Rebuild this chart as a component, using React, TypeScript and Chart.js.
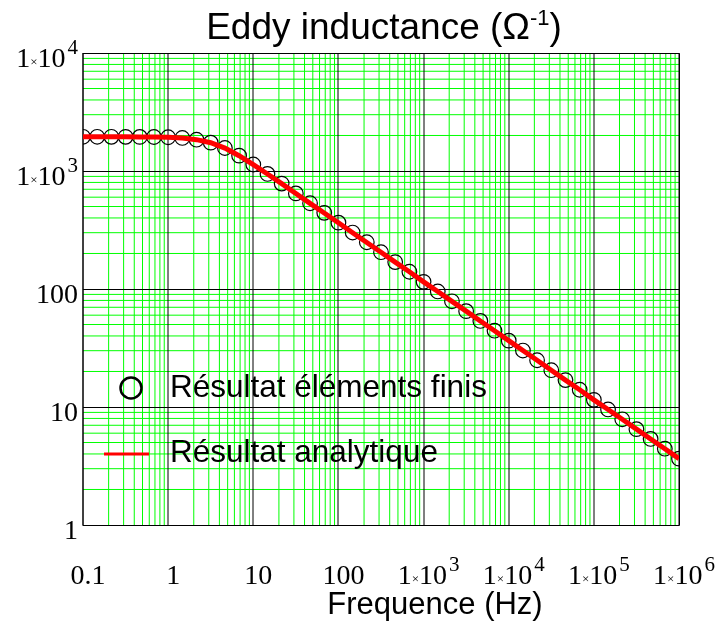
import React, { useEffect, useRef } from 'react';
import { Chart, registerables } from 'chart.js';

Chart.register(...registerables);

// Frequencies (Hz) of the computed points, 6 per decade
const FREQ = [
  0.1, 0.1468, 0.2154, 0.3162, 0.4642, 0.6813,
  1, 1.468, 2.154, 3.162, 4.642, 6.813,
  10, 14.68, 21.54, 31.62, 46.42, 68.13,
  100, 146.8, 215.4, 316.2, 464.2, 681.3,
  1000, 1468, 2154, 3162, 4642, 6813,
  10000, 14680, 21540, 31620, 46420, 68130,
  100000, 146800, 215400, 316200, 464200, 681300,
  1000000,
];

// Finite element result (circles)
const FEM = [
  1950, 1950, 1949, 1947, 1945, 1941,
  1932, 1905, 1841, 1738, 1567, 1349,
  1135, 944, 782, 646, 533, 442,
  365, 301, 249, 205, 169, 140,
  115, 95.3, 78.7, 64.9, 53.6, 44.3,
  36.5, 30.1, 24.9, 20.5, 16.9, 14.0,
  11.5, 9.53, 7.87, 6.49, 5.36, 4.43,
  3.65,
];

// Analytic result (red line)
const ANALYTIC = [
  1950, 1950, 1949, 1947, 1945, 1941,
  1932, 1906, 1843, 1736, 1565, 1347,
  1134, 943, 781, 645, 532, 441,
  364, 300, 248, 205, 169, 140,
  115, 95.2, 78.6, 64.9, 53.6, 44.3,
  36.5, 30.1, 24.9, 20.5, 16.9, 14.0,
  11.5, 9.52, 7.87, 6.49, 5.36, 4.43,
  3.65,
];

const X_TICKS = [0.1, 1, 10, 100, 1e3, 1e4, 1e5, 1e6];
const X_TICK_LABELS = ['0.1', '1', '10', '100', '1×10^3', '1×10^4', '1×10^5', '1×10^6'];
const Y_TICKS = [1, 10, 100, 1e3, 1e4];
const Y_TICK_LABELS = ['1', '10', '100', '1×10^3', '1×10^4'];

const TITLE_MAIN = 'Eddy inductance (Ω';
const TITLE_SUP = '-1';
const TITLE_END = ')';
const X_TITLE = 'Frequence (Hz)';
const LEGEND_FEM = 'Résultat éléments finis';
const LEGEND_ANALYTIC = 'Résultat analytique';

const SANS = '"Liberation Sans", Arial, Helvetica, sans-serif';
const SERIF = '"Liberation Serif", "Times New Roman", serif';

function minorValues(minExp: number, maxExp: number): number[] {
  const out: number[] = [];
  for (let e = minExp; e < maxExp; e++) {
    for (let m = 2; m <= 9; m++) out.push(m * Math.pow(10, e));
  }
  return out;
}

function measureLabel(ctx: CanvasRenderingContext2D, text: string) {
  if (text.indexOf('×') < 0) {
    ctx.font = `28px ${SERIF}`;
    return ctx.measureText(text).width;
  }
  const exp = text.split('^')[1];
  ctx.font = `28px ${SERIF}`;
  const w1 = ctx.measureText('1').width;
  const w10 = ctx.measureText('10').width;
  ctx.font = `13px ${SERIF}`;
  const wx = ctx.measureText('×').width;
  ctx.font = `21px ${SERIF}`;
  const we = ctx.measureText(exp).width;
  return w1 + wx + w10 + we + 2;
}

function drawLabel(ctx: CanvasRenderingContext2D, text: string, left: number, baseline: number) {
  ctx.fillStyle = '#000';
  ctx.textAlign = 'left';
  ctx.textBaseline = 'alphabetic';
  if (text.indexOf('×') < 0) {
    ctx.font = `28px ${SERIF}`;
    ctx.fillText(text, left, baseline);
    return;
  }
  const exp = text.split('^')[1];
  let x = left;
  ctx.font = `28px ${SERIF}`;
  ctx.fillText('1', x, baseline);
  x += ctx.measureText('1').width;
  ctx.font = `13px ${SERIF}`;
  ctx.fillText('×', x, baseline - 1);
  x += ctx.measureText('×').width;
  ctx.font = `28px ${SERIF}`;
  ctx.fillText('10', x, baseline);
  x += ctx.measureText('10').width + 2;
  ctx.font = `21px ${SERIF}`;
  ctx.fillText(exp, x, baseline - 13);
}

const decorPlugin = {
  id: 'decor',
  beforeDatasetsDraw(chart: any) {
    const { ctx, chartArea: a } = chart;
    const xs = chart.scales.x;
    const ys = chart.scales.y;
    ctx.save();
    // minor grid (green), drawn at exact positions
    ctx.strokeStyle = '#00ff00';
    ctx.lineWidth = 1;
    ctx.beginPath();
    minorValues(-1, 6).forEach((v) => {
      const px = xs.getPixelForValue(v);
      ctx.moveTo(px, a.top);
      ctx.lineTo(px, a.bottom);
    });
    minorValues(0, 4).forEach((v) => {
      const py = ys.getPixelForValue(v);
      ctx.moveTo(a.left, py);
      ctx.lineTo(a.right, py);
    });
    ctx.stroke();
    // major vertical (soft, gray)
    ctx.strokeStyle = '#000000';
    ctx.lineWidth = 1;
    ctx.beginPath();
    X_TICKS.forEach((v) => {
      const px = Math.round(xs.getPixelForValue(v));
      ctx.moveTo(px, a.top);
      ctx.lineTo(px, a.bottom);
    });
    ctx.stroke();
    // major horizontal (black, crisp)
    ctx.beginPath();
    Y_TICKS.forEach((v) => {
      const py = Math.round(ys.getPixelForValue(v)) + 0.5;
      ctx.moveTo(a.left, py);
      ctx.lineTo(a.right, py);
    });
    ctx.stroke();
    // frame
    ctx.beginPath();
    ctx.moveTo(a.left, Math.round(a.top) + 0.5);
    ctx.lineTo(Math.round(a.right) + 0.5, Math.round(a.top) + 0.5);
    ctx.lineTo(Math.round(a.right) + 0.5, Math.round(a.bottom) + 0.5);
    ctx.lineTo(a.left, Math.round(a.bottom) + 0.5);
    ctx.stroke();
    ctx.beginPath();
    ctx.moveTo(Math.round(a.left), a.top);
    ctx.lineTo(Math.round(a.left), a.bottom + 1);
    ctx.stroke();
    ctx.restore();
  },
  afterDraw(chart: any) {
    const { ctx } = chart;
    const xs = chart.scales.x;
    const ys = chart.scales.y;
    ctx.save();

    // Y tick labels (right aligned)
    Y_TICKS.forEach((v, i) => {
      const t = Y_TICK_LABELS[i];
      const w = measureLabel(ctx, t);
      const py = ys.getPixelForValue(v);
      drawLabel(ctx, t, 78 - w, py + 14);
    });

    // X tick labels (centered)
    X_TICKS.forEach((v, i) => {
      const t = X_TICK_LABELS[i];
      const w = measureLabel(ctx, t);
      const px = xs.getPixelForValue(v);
      drawLabel(ctx, t, px + 5 - w / 2, 584);
    });

    // Title
    ctx.fillStyle = '#000';
    ctx.textBaseline = 'alphabetic';
    ctx.textAlign = 'left';
    ctx.font = `37px ${SANS}`;
    const wMain = ctx.measureText(TITLE_MAIN).width;
    const wEnd = ctx.measureText(TITLE_END).width;
    ctx.font = `22px ${SANS}`;
    const wSup = ctx.measureText(TITLE_SUP).width;
    let tx = 384 - (wMain + wSup + wEnd) / 2;
    ctx.font = `37px ${SANS}`;
    ctx.fillText(TITLE_MAIN, tx, 39);
    tx += wMain;
    ctx.font = `22px ${SANS}`;
    ctx.fillText(TITLE_SUP, tx, 25);
    tx += wSup;
    ctx.font = `37px ${SANS}`;
    ctx.fillText(TITLE_END, tx, 39);

    // X axis title
    ctx.font = `31px ${SANS}`;
    ctx.textAlign = 'center';
    ctx.fillText(X_TITLE, 435, 614);

    // Legend
    ctx.textAlign = 'left';
    ctx.font = `31.5px ${SANS}`;
    ctx.strokeStyle = '#000';
    ctx.lineWidth = 2.5;
    ctx.beginPath();
    ctx.arc(131, 388, 10.5, 0, Math.PI * 2);
    ctx.stroke();
    ctx.fillText(LEGEND_FEM, 170, 397);
    ctx.strokeStyle = '#ff0000';
    ctx.lineWidth = 3;
    ctx.beginPath();
    ctx.moveTo(104, 454);
    ctx.lineTo(149, 454);
    ctx.stroke();
    ctx.fillStyle = '#000';
    ctx.fillText(LEGEND_ANALYTIC, 170, 462);

    ctx.restore();
  },
};

export default function App() {
  const ref = useRef<HTMLCanvasElement | null>(null);

  useEffect(() => {
    if (!ref.current) return;
    const chart = new Chart(ref.current, {
      type: 'scatter',
      data: {
        datasets: [
          {
            label: LEGEND_ANALYTIC,
            data: FREQ.map((f, i) => ({ x: f, y: ANALYTIC[i] })),
            showLine: true,
            borderColor: '#ff0000',
            borderWidth: 5,
            pointRadius: 0,
            tension: 0,
          },
          {
            label: LEGEND_FEM,
            data: FREQ.map((f, i) => ({ x: f, y: FEM[i] })),
            showLine: false,
            pointStyle: 'circle',
            pointRadius: 7.3,
            pointBorderWidth: 1.2,
            pointBorderColor: '#000',
            pointBackgroundColor: 'rgba(0,0,0,0)',
            borderColor: '#000',
            backgroundColor: 'rgba(0,0,0,0)',
          },
        ],
      },
      options: {
        animation: false,
        responsive: false,
        maintainAspectRatio: false,
        devicePixelRatio: 1,
        layout: { padding: { left: 83, right: 43, top: 53, bottom: 105 } },
        plugins: {
          legend: { display: false },
          title: { display: false },
          tooltip: { enabled: false },
        },
        scales: {
          x: {
            type: 'logarithmic',
            min: 0.1,
            max: 1e6,
            afterFit: (s: any) => {
              s.height = 0;
            },
            ticks: { display: false },
            border: { display: false },
            grid: { display: false, drawTicks: false },
          },
          y: {
            type: 'logarithmic',
            min: 1,
            max: 1e4,
            afterFit: (s: any) => {
              s.width = 0;
            },
            ticks: { display: false },
            border: { display: false },
            grid: { display: false, drawTicks: false },
          },
        },
      } as any,
      plugins: [decorPlugin],
    });
    return () => chart.destroy();
  }, []);

  return (
    <div style={{ position: 'fixed', left: 0, top: 0, width: 722, height: 630, background: '#fff' }}>
      <canvas ref={ref} width={722} height={630} style={{ display: 'block', width: 722, height: 630 }} />
    </div>
  );
}
